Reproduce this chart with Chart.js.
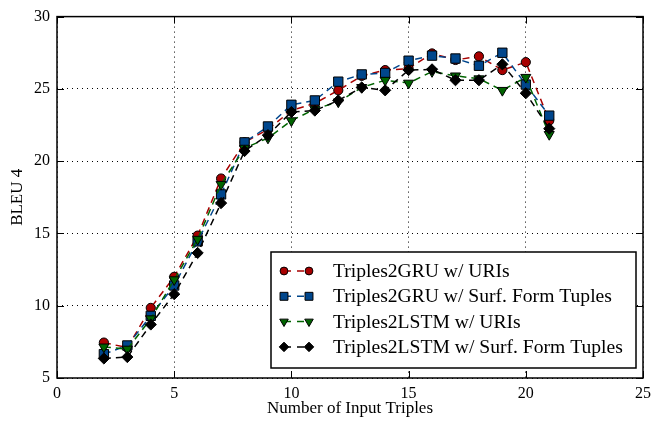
<!DOCTYPE html>
<html>
<head>
<meta charset="utf-8">
<script src="https://cdn.jsdelivr.net/npm/chart.js@4/dist/chart.umd.min.js"></script>
<style>
  html, body { margin: 0; padding: 0; background: #fff; }
  #wrap { width: 665px; height: 423px; }
</style>
</head>
<body>
<div id="wrap"><canvas id="chart" width="665" height="423"></canvas></div>
<script>
// データ
const inputTriples = [2, 3, 4, 5, 6, 7, 8, 9, 10, 11, 12, 13, 14, 15, 16, 17, 18, 19, 20, 21];
const gruUris   = [7.45, 7.1, 9.85, 12.0, 14.85, 18.8, 21.3, 22.2, 23.5, 24.0, 24.9, 25.9, 26.3, 26.4, 27.45, 27.0, 27.25, 26.3, 26.85, 22.8];
const gruSurf   = [6.65, 7.25, 9.3, 11.4, 14.45, 17.7, 21.3, 22.4, 23.9, 24.2, 25.5, 26.0, 26.1, 26.95, 27.3, 27.1, 26.6, 27.5, 25.3, 23.15];
const lstmUris  = [7.15, 7.0, 9.1, 11.8, 14.6, 18.4, 20.9, 21.6, 22.8, 23.6, 24.1, 25.1, 25.6, 25.4, 26.2, 25.9, 25.7, 24.9, 25.8, 21.85];
const lstmSurf  = [6.35, 6.45, 8.7, 10.8, 13.65, 17.1, 20.7, 21.8, 23.4, 23.5, 24.2, 25.1, 24.9, 26.3, 26.35, 25.6, 25.6, 26.7, 24.7, 22.25];
const seriesNames = [
    'Triples2GRU w/ URIs',
    'Triples2GRU w/ Surf. Form Tuples',
    'Triples2LSTM w/ URIs',
    'Triples2LSTM w/ Surf. Form Tuples'
];
const xTicks = [0, 5, 10, 15, 20, 25];
const yTicks = [5, 10, 15, 20, 25, 30];

const SERIF = '"Liberation Serif", "DejaVu Serif", serif';

// 系列ごとのスタイル
const styles = [
    { color: '#a80000', pointStyle: 'circle',   radius: 4.6, rotation: 0 },
    { color: '#00468c', pointStyle: 'rect',     radius: 6.6, rotation: 0 },
    { color: '#006400', pointStyle: 'triangle', radius: 5.8, rotation: 180 },
    { color: '#000000', pointStyle: 'rectRot',  radius: 5.6, rotation: 0 }
];

function toPoints(values) {
    return inputTriples.map((x, i) => ({ x: x, y: values[i] }));
}

const allValues = [gruUris, gruSurf, lstmUris, lstmSurf];
const datasets = allValues.map((values, i) => ({
    label: seriesNames[i],
    data: toPoints(values),
    borderColor: styles[i].color,
    backgroundColor: styles[i].color,
    borderWidth: 1.5,
    borderDash: [7, 5],
    pointStyle: styles[i].pointStyle,
    pointRadius: styles[i].radius,
    pointRotation: styles[i].rotation,
    pointBackgroundColor: styles[i].color,
    pointBorderColor: '#000',
    pointBorderWidth: 1,
    tension: 0,
    fill: false,
    order: 3 - i   // 後の系列を上に描く
}));

// 枠線と内向きの目盛り
const framePlugin = {
    id: 'frame',
    afterDatasetsDraw(chart) {
        const { ctx, chartArea: a, scales } = chart;
        ctx.save();
        ctx.strokeStyle = '#000';
        ctx.lineWidth = 1;
        const len = 7;
        xTicks.forEach(v => {
            const px = Math.round(scales.x.getPixelForValue(v)) + 0.5;
            ctx.beginPath();
            ctx.moveTo(px, a.bottom); ctx.lineTo(px, a.bottom - len);
            ctx.moveTo(px, a.top); ctx.lineTo(px, a.top + len);
            ctx.stroke();
        });
        yTicks.forEach(v => {
            const py = Math.round(scales.y.getPixelForValue(v)) + 0.5;
            ctx.beginPath();
            ctx.moveTo(a.left, py); ctx.lineTo(a.left + len, py);
            ctx.moveTo(a.right, py); ctx.lineTo(a.right - len, py);
            ctx.stroke();
        });
        ctx.lineWidth = 1.5;
        ctx.strokeRect(a.left, a.top, a.right - a.left, a.bottom - a.top);
        ctx.restore();
    }
};

// matplotlib風の凡例
const legendPlugin = {
    id: 'mplLegend',
    afterDraw(chart) {
        const { ctx } = chart;
        const box = { left: 271, top: 252, right: 636, bottom: 368 };
        ctx.save();
        ctx.fillStyle = '#fff';
        ctx.fillRect(box.left, box.top, box.right - box.left, box.bottom - box.top);
        ctx.strokeStyle = '#000';
        ctx.lineWidth = 1.5;
        ctx.strokeRect(box.left, box.top, box.right - box.left, box.bottom - box.top);

        const rowY0 = 271, rowGap = 25.3;
        const m1 = 284, m2 = 309, textX = 333;
        seriesNames.forEach((name, i) => {
            const y = rowY0 + i * rowGap;
            const st = styles[i];
            // 破線
            ctx.save();
            ctx.strokeStyle = st.color;
            ctx.lineWidth = 1.5;
            ctx.setLineDash([7, 6]);
            ctx.beginPath();
            ctx.moveTo(m1, y); ctx.lineTo(m2, y);
            ctx.stroke();
            ctx.restore();
            // マーカー
            [m1, m2].forEach(mx => {
                ctx.save();
                ctx.fillStyle = st.color;
                ctx.strokeStyle = '#000';
                ctx.lineWidth = 1;
                Chart.helpers.drawPoint(ctx, {
                    pointStyle: st.pointStyle,
                    rotation: st.rotation,
                    radius: st.radius * 0.85,
                    borderWidth: 1
                }, mx, y);
                ctx.restore();
            });
            // テキスト
            ctx.fillStyle = '#000';
            ctx.font = '19.6px ' + SERIF;
            ctx.textBaseline = 'middle';
            ctx.textAlign = 'left';
            ctx.fillText(name, textX, y + 1);
        });
        ctx.restore();
    }
};

const ctx = document.getElementById('chart').getContext('2d');
const chart = new Chart(ctx, {
    type: 'line',
    data: { datasets: datasets },
    options: {
        responsive: false,
        animation: false,
        devicePixelRatio: 1,
        layout: { padding: { left: 0, top: 13, right: 22, bottom: 0 } },
        plugins: {
            legend: { display: false },
            tooltip: { enabled: false }
        },
        scales: {
            x: {
                type: 'linear',
                min: 0,
                max: 25,
                afterBuildTicks: scale => { scale.ticks = xTicks.map(v => ({ value: v })); },
                afterFit: scale => { scale.height = 45; },
                grid: { color: '#000', lineWidth: 1, drawTicks: false },
                border: { display: false, dash: [1, 4] },
                ticks: {
                    color: '#000',
                    padding: 6,
                    maxRotation: 0,
                    font: { family: SERIF, size: 16 }
                },
                title: {
                    display: true,
                    text: 'Number of Input Triples',
                    color: '#000',
                    font: { family: SERIF, size: 17 },
                    padding: { top: 0, bottom: 4 }
                }
            },
            y: {
                min: 5,
                max: 30,
                afterBuildTicks: scale => { scale.ticks = yTicks.map(v => ({ value: v })); },
                afterFit: scale => { scale.width = 57; },
                grid: { color: '#000', lineWidth: 1, drawTicks: false },
                border: { display: false, dash: [1, 4] },
                ticks: {
                    color: '#000',
                    padding: 7,
                    font: { family: SERIF, size: 16 }
                },
                title: {
                    display: true,
                    text: 'BLEU 4',
                    color: '#000',
                    font: { family: SERIF, size: 17 },
                    padding: { top: 7, bottom: 0 }
                }
            }
        }
    },
    plugins: [framePlugin, legendPlugin]
});
</script>
</body>
</html>
